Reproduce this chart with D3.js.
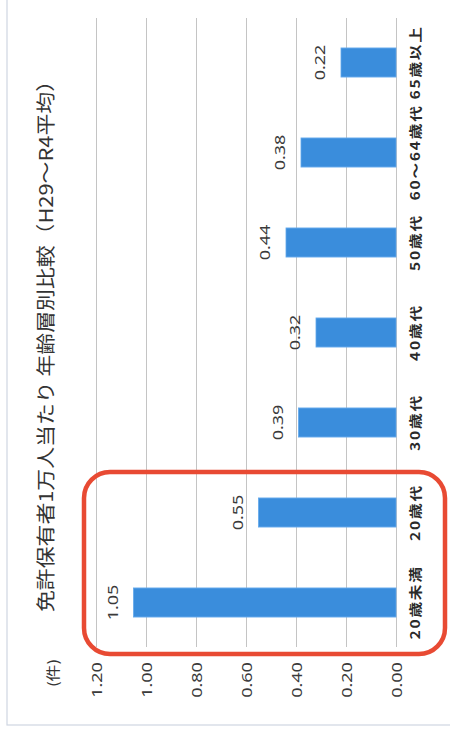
<!DOCTYPE html>
<html><head><meta charset="utf-8">
<script src="https://cdn.jsdelivr.net/npm/d3@7"></script>
<style>
html,body{margin:0;padding:0;background:#fff;}
svg{display:block;font-family:"Noto Sans CJK JP","Noto Sans",sans-serif;}
</style></head>
<body>
<svg id="chart" width="450" height="729"></svg>
<script>
const categories = ["20歳未満","20歳代","30歳代","40歳代","50歳代","60～64歳代","65歳以上"];
const values = [1.05,0.55,0.39,0.32,0.44,0.38,0.22];
const yTicks = [0,0.2,0.4,0.6,0.8,1.0,1.2];
const titleText = "免許保有者1万人当たり 年齢層別比較（H29～R4平均）";
const unitText = "(件)";
const highlighted = ["20歳未満","20歳代"];

(function(){
const W = 450, H = 729, k = 1.2;
const svg = d3.select("#chart");

// outer frame
svg.append("rect").attr("x",7).attr("y",-10).attr("width",W+20).attr("height",H-4+10)
  .attr("fill","#fff").attr("stroke","#cfd6e2").attr("stroke-width",1.2);

// rotated chart group: screen_x = cy, screen_y = H - k*cx
const g = svg.append("g").attr("transform",`translate(0,${H}) rotate(-90) scale(${k},1)`);

const gridStart = (H-647)/k, gridEnd = (H-18)/k;
const x = d3.scaleBand().domain(categories)
  .range([(H-647.5)/k,(H-17.5)/k]).paddingInner(0.678).paddingOuter(0.339);
const y = d3.scaleLinear().domain([0,1.2]).range([396,96]);

// grid + value axis
const ya = g.append("g").attr("transform",`translate(${gridStart},0)`)
  .call(d3.axisLeft(y).tickValues(yTicks).tickSize(-(gridEnd-gridStart)).tickFormat(d3.format(".2f")));
ya.select(".domain").remove();
ya.selectAll(".tick line").attr("stroke","#c4c4c4").attr("stroke-width",1);
ya.selectAll(".tick text")
  .attr("x",(H-680)/k-gridStart).attr("dy","0.35em")
  .attr("text-anchor","middle")
  .attr("font-size",15).attr("fill","#3a3a3a")
  .attr("font-family","'Noto Sans','DejaVu Sans',sans-serif");

// bars
g.append("g").selectAll("rect").data(values).join("rect")
  .attr("x",(d,i)=>x(categories[i]))
  .attr("width",x.bandwidth())
  .attr("y",d=>y(d))
  .attr("height",d=>y(0)-y(d))
  .attr("fill","#3a8ddc")
  .attr("stroke","#62a8ec").attr("stroke-width",0.8);

// data labels
g.append("g").selectAll("text").data(values).join("text")
  .attr("x",(d,i)=>x(categories[i])+x.bandwidth()/2)
  .attr("y",d=>y(d)-21)
  .attr("dy","0.35em")
  .attr("text-anchor","middle")
  .attr("font-size",15).attr("fill","#3a3a3a")
  .attr("font-family","'Noto Sans','DejaVu Sans',sans-serif")
  .text(d=>d.toFixed(2));

// category axis
const xa = g.append("g").attr("transform",`translate(0,${y(0)})`)
  .call(d3.axisBottom(x).tickSize(0));
xa.select(".domain").remove();
xa.selectAll(".tick text")
  .attr("y",19).attr("dy","0.35em")
  .attr("text-anchor","middle")
  .attr("font-size",13).attr("font-weight",700).attr("fill","#2a2a2a")
  .attr("letter-spacing",1.5)
  .attr("font-family","'Noto Sans CJK JP',sans-serif");

// title
g.append("text")
  .attr("x",(H-341)/k).attr("y",46).attr("dy","0.35em")
  .attr("text-anchor","middle")
  .attr("font-size",19).attr("fill","#333")
  .attr("textLength",(612-70)/k).attr("lengthAdjust","spacingAndGlyphs")
  .text(titleText);

// unit
g.append("text")
  .attr("x",(H-673)/k).attr("y",53).attr("dy","0.35em")
  .attr("text-anchor","middle")
  .attr("font-size",14).attr("fill","#333")
  .text(unitText);

// highlight box (screen coordinates, from the band scale)
const toScreenY = cx => H - k*cx;
const hb = highlighted.map(c=>[toScreenY(x(c)+x.bandwidth()), toScreenY(x(c))]);
const boxTop = d3.min(hb,d=>d[0]) - 26, boxBottom = d3.max(hb,d=>d[1]) + 37;
svg.append("rect")
  .attr("x",84).attr("y",boxTop).attr("width",445-84).attr("height",boxBottom-boxTop)
  .attr("rx",26).attr("ry",26)
  .attr("fill","none").attr("stroke","#e84a33").attr("stroke-width",4.5);
})();
</script>
</body></html>
